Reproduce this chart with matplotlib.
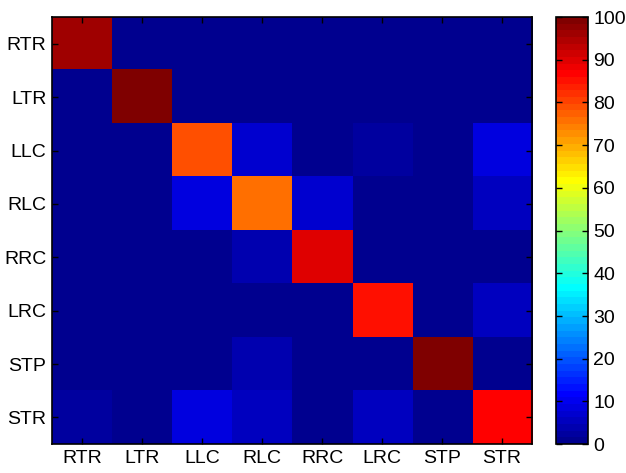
import numpy as np
import matplotlib
matplotlib.use("Agg")
import matplotlib.pyplot as plt
from matplotlib.colors import ListedColormap

# class labels (true rows / predicted columns)
labels = ["RTR", "LTR", "LLC", "RLC", "RRC", "LRC", "STP", "STR"]

# confusion matrix in percent, one list per true class
row_rtr = [96, 0, 0, 0, 0, 0, 0, 0]
row_ltr = [0, 100, 0, 0, 0, 0, 0, 0]
row_llc = [0, 0, 79, 7, 0, 2, 0, 9]
row_rlc = [0, 0, 8, 76, 7, 0, 0, 6]
row_rrc = [0, 0, 0, 4, 90, 0, 0, 0]
row_lrc = [0, 0, 0, 0, 0, 85, 0, 5]
row_stp = [0, 0, 0, 3.5, 0, 0, 99, 1]
row_str = [2, 0, 9, 5, 0, 5, 0, 87]

cbar_ticks = [0, 10, 20, 30, 40, 50, 60, 70, 80, 90, 100]


def matlab_jet(m=64):
    # same construction as MATLAB's jet(m)
    n = int(np.ceil(m / 4))
    u = np.concatenate([np.arange(1, n + 1) / n, np.ones(n - 1), np.arange(n, 0, -1) / n])
    g = int(np.ceil(n / 2)) - (1 if m % 4 == 1 else 0) + np.arange(1, len(u) + 1)
    r = g + n
    b = g - n
    cols = np.zeros((m, 3))
    for ch, idx in ((0, r), (1, g), (2, b)):
        ok = (idx >= 1) & (idx <= m)
        cols[idx[ok] - 1, ch] = u[ok]
    return ListedColormap(cols)


plt.rcParams['font.family'] = ['Liberation Sans', 'DejaVu Sans']
plt.rcParams['font.size'] = 14

data = np.array([row_rtr, row_ltr, row_llc, row_rlc, row_rrc, row_lrc, row_stp, row_str])

fig = plt.figure(figsize=(6.26, 4.73), dpi=100)
ax = fig.add_axes([0.083, 0.061, 0.767, 0.903])
cax = fig.add_axes([0.888, 0.061, 0.051, 0.903])

im = ax.imshow(data, cmap=matlab_jet(64), vmin=0, vmax=100,
               aspect='auto', interpolation='nearest')
ax.set_xticks(range(len(labels)))
ax.set_xticklabels(labels)
ax.set_yticks(range(len(labels)))
ax.set_yticklabels(labels)
ax.tick_params(direction='in', length=4, width=1, top=True, right=True, pad=4)
for s in ax.spines.values():
    s.set_linewidth(1.2)

cb = fig.colorbar(im, cax=cax, ticks=cbar_ticks)
cb.ax.tick_params(direction='in', length=4, width=1, left=True, right=True, pad=4)
cb.outline.set_linewidth(1.2)

fig.savefig("out.png", dpi=100)
